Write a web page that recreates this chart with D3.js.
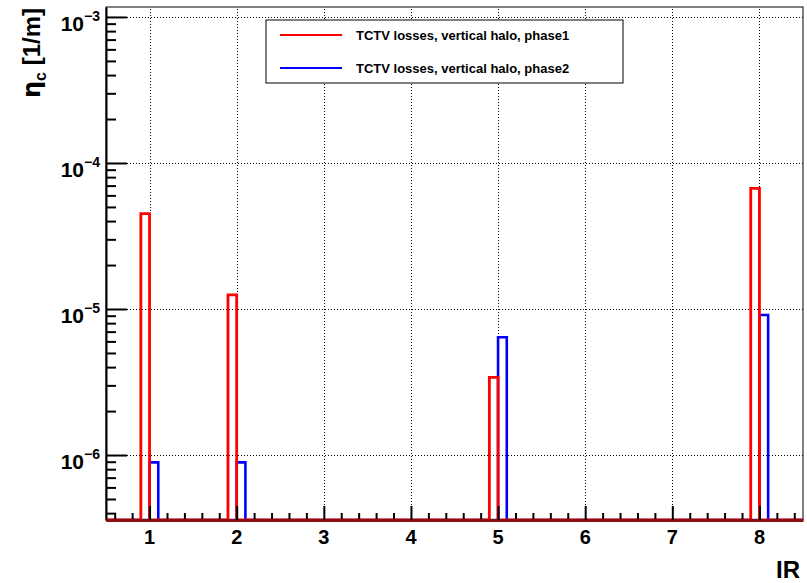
<!DOCTYPE html>
<html>
<head>
<meta charset="utf-8">
<script src="https://cdn.jsdelivr.net/npm/d3@7"></script>
<style>
  body { margin: 0; background: #fff; }
  text { font-family: "Liberation Sans", Arial, Helvetica, sans-serif; font-weight: bold; }
</style>
</head>
<body>
<div id="chart"></div>
<script>
// interaction regions and the loss values (1/m)
const irs = [1, 2, 5, 8]
const phase1 = [4.5e-5, 1.25e-5, 3.4e-6, 6.7e-5]
const phase2 = [8.9e-7, 8.9e-7, 6.4e-6, 9.1e-6]
const binWidth = 0.1
const xTicks = [1, 2, 3, 4, 5, 6, 7, 8]
const yDecades = [-6, -5, -4, -3]
const seriesNames = ['TCTV losses, vertical halo, phase1', 'TCTV losses, vertical halo, phase2']

const width = 807
const height = 583
const margin = { left: 106, right: 4, top: 7, bottom: 63 }

const x = d3.scaleLinear().domain([0.5, 8.5]).range([margin.left, width - margin.right])
const y = d3.scaleLog().domain([3.59e-7, 1.17e-3]).range([height - margin.bottom, margin.top])
const [yLo] = y.domain()

const svg = d3.select('#chart').append('svg').attr('width', width).attr('height', height)

// grid
const grid = svg.append('g').attr('stroke', 'black').attr('stroke-width', 1).attr('stroke-dasharray', '1,2')
grid.selectAll('.vgrid').data(xTicks).join('line')
  .attr('x1', d => Math.round(x(d)) + 0.5).attr('x2', d => Math.round(x(d)) + 0.5)
  .attr('y1', y.range()[0]).attr('y2', y.range()[1])
grid.selectAll('.hgrid').data(yDecades).join('line')
  .attr('x1', x.range()[0]).attr('x2', x.range()[1])
  .attr('y1', d => Math.round(y(Math.pow(10, d))) + 0.5).attr('y2', d => Math.round(y(Math.pow(10, d))) + 0.5)

// frame
svg.append('rect')
  .attr('x', x.range()[0]).attr('y', y.range()[1])
  .attr('width', x.range()[1] - x.range()[0]).attr('height', y.range()[0] - y.range()[1])
  .attr('fill', 'none').attr('stroke', 'black').attr('stroke-width', 1)

// histograms
function histPoints(values, offset) {
  const pts = [[x.domain()[0], yLo]]
  irs.forEach((ir, i) => {
    const x0 = ir + offset
    const x1 = x0 + binWidth
    pts.push([x0, yLo], [x0, values[i]], [x1, values[i]], [x1, yLo])
  })
  pts.push([x.domain()[1], yLo])
  return pts
}
const line = d3.line().x(d => x(d[0])).y(d => y(d[1]))
svg.append('path').attr('d', line(histPoints(phase2, 0)))
  .attr('fill', 'none').attr('stroke', '#0000ff').attr('stroke-width', 2.6)
svg.append('path').attr('d', line(histPoints(phase1, -binWidth)))
  .attr('fill', 'none').attr('stroke', '#ff0000').attr('stroke-width', 2.8)

// y axis: majors + minors
const yMinor = []
for (let e = -7; e <= -4; e++) for (let m = 2; m <= 9; m++) {
  const v = m * Math.pow(10, e)
  if (v >= y.domain()[0] && v <= y.domain()[1]) yMinor.push(v)
}
svg.append('g').attr('transform', `translate(${x.range()[0]},0)`)
  .call(d3.axisLeft(y).tickValues(yMinor).tickSize(-10).tickFormat(''))
  .call(g => g.select('.domain').remove())
  .call(g => g.selectAll('line').attr('stroke-width', 2))
svg.append('g').attr('transform', `translate(${x.range()[0]},0)`)
  .call(d3.axisLeft(y).tickValues(yDecades.map(d => Math.pow(10, d))).tickSizeInner(-21).tickSizeOuter(0).tickFormat(''))
  .call(g => g.select('.domain').attr('stroke-width', 2))
  .call(g => g.selectAll('line').attr('stroke-width', 2))

const yLab = svg.append('g').selectAll('text').data(yDecades).join('text')
  .attr('text-anchor', 'end')
  .attr('x', x.range()[0] - 6)
  .attr('y', d => y(Math.pow(10, d)) + 14)
  .attr('font-size', 21)
yLab.append('tspan').text('10')
yLab.append('tspan').attr('font-size', 14).attr('dy', -10).text(d => '\u2212' + (-d))

// x axis (dark red base where the histogram outline sits on the axis)
const xMinor = d3.range(6, 85, 2).map(d => d / 10).filter(d => Math.abs(d - Math.round(d)) > 1e-6)
svg.append('g').attr('transform', `translate(0,${y.range()[0]})`)
  .call(d3.axisBottom(x).tickValues(xMinor).tickSize(-7).tickFormat(''))
  .call(g => g.select('.domain').remove())
  .call(g => g.selectAll('line').attr('stroke-width', 2))
svg.append('g').attr('transform', `translate(0,${y.range()[0]})`)
  .call(d3.axisBottom(x).tickValues(xTicks).tickSizeInner(-14).tickSizeOuter(0).tickFormat(''))
  .call(g => g.select('.domain').attr('stroke', '#8a1010').attr('stroke-width', 3))
  .call(g => g.selectAll('line').attr('stroke-width', 2))

svg.append('g').selectAll('text').data(xTicks).join('text')
  .attr('text-anchor', 'middle')
  .attr('x', d => x(d))
  .attr('y', y.range()[0] + 24)
  .attr('font-size', 20)
  .text(d => d)

// titles
svg.append('text')
  .attr('text-anchor', 'end')
  .attr('x', 800).attr('y', 578)
  .attr('font-size', 24)
  .text('IR')

const yt = svg.append('text')
  .attr('text-anchor', 'end')
  .attr('transform', 'translate(40,8) rotate(-90)')
  .attr('font-size', 24)
yt.append('tspan').attr('font-family', '"DejaVu Sans", sans-serif').text('\u03b7')
yt.append('tspan').attr('font-size', 16).attr('dy', 6).text('c')
yt.append('tspan').attr('dy', -6).text(' [1/m]')

// legend
const legend = svg.append('g').attr('transform', 'translate(266,20)')
legend.append('rect').attr('width', 357).attr('height', 63)
  .attr('fill', 'white').attr('stroke', 'black').attr('stroke-width', 1)
const entries = legend.selectAll('.entry').data(seriesNames).join('g')
  .attr('transform', (d, i) => `translate(0,${15 + i * 33})`)
entries.append('line').attr('x1', 14).attr('x2', 76).attr('y1', 0).attr('y2', 0)
  .attr('stroke', (d, i) => i === 0 ? '#ff0000' : '#0000ff').attr('stroke-width', 2)
entries.append('text').attr('x', 90).attr('y', 5).attr('font-size', 13).text(d => d)
</script>
</body>
</html>
